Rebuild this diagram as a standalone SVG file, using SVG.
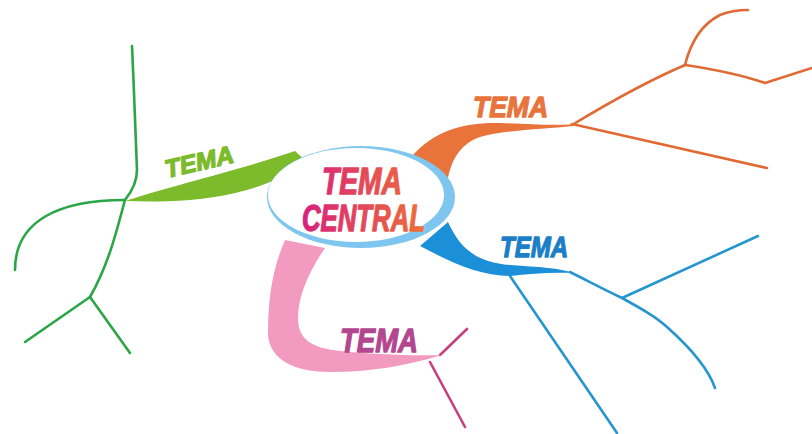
<svg xmlns="http://www.w3.org/2000/svg" width="812" height="434" viewBox="0 0 812 434">
<defs>
<linearGradient id="cg" gradientUnits="userSpaceOnUse" x1="300" y1="0" x2="428" y2="0">
<stop offset="0" stop-color="#d81f7d"/>
<stop offset="1" stop-color="#ee7236"/>
</linearGradient>
<style>
.lbl{font-family:"Liberation Sans",Arial,sans-serif;font-weight:bold;font-style:italic;stroke-width:1.3;stroke-linejoin:round}
.ln{fill:none;stroke-width:2.6;stroke-linecap:round;stroke-linejoin:round}
.g{stroke:#2aa646}.o{stroke:#e06a34}.b{stroke:#2596cf}.p{stroke:#c8407f}
</style>
</defs>
<rect width="812" height="434" fill="#ffffff"/>
<g id="connectors">
<!-- green -->
<path class="ln g" d="M132,46 C134,90 136,140 137,170 C137,180 133,190 125,200 C118,225 110,262 90,297"/>
<path class="ln g" d="M90,297 L130,353"/>
<path class="ln g" d="M90,297 L25,342"/>
<path class="ln g" d="M125,200 C60,200 15,220 15,270"/>
<path d="M125,201 C170,186 240,170 295,151 L310,165 L275,180 C245,193 200,204 125,201 Z" fill="#7cbb2b"/>
<!-- orange -->
<path class="ln o" d="M572,125 C610,102 650,80 685,65"/>
<path class="ln o" d="M685,65 C690,45 700,25 720,15 C730,11 740,10 748,10"/>
<path class="ln o" d="M685,65 C705,68 733,72 765,83 L812,68"/>
<path class="ln o" d="M572,124 L767,168"/>
<path d="M412,156 C435,130 465,122 500,123 C530,124 555,126 573,124 L573,126 C545,129 505,130 480,137 C462,143 452,158 448,178 L420,180 Z" fill="#e8743c"/>
<!-- blue -->
<path class="ln b" d="M510,276 L617,433"/>
<path class="ln b" d="M570,272 C590,282 605,290 622,298 C640,308 655,316 667,327 C685,343 707,365 715,388"/>
<path class="ln b" d="M622,298 L758,236"/>
<path d="M448,222 C460,248 475,262 510,265 C540,267 560,268 573,273 C550,272 530,274 510,276 C480,276 450,262 420,246 Z" fill="#1b8fd8"/>
<!-- pink -->
<path class="ln p" d="M440,355 L467,329"/>
<path class="ln p" d="M430,362 L465,427"/>
<path d="M285,240 C272,270 268,300 268,335 C270,360 295,372 330,372 C370,372 405,366 442,355 C410,356 370,354 340,351 C310,348 298,338 298,318 C298,295 310,270 325,248 Z" fill="#f39ac1"/>
</g>
<g id="central">
<ellipse cx="361" cy="197" rx="94" ry="51" fill="#7ec6ef"/>
<ellipse cx="356" cy="195" rx="88" ry="47" fill="#ffffff"/>
<text class="lbl" x="322" y="194" font-size="37" textLength="80" lengthAdjust="spacingAndGlyphs" fill="url(#cg)" stroke="url(#cg)">TEMA</text>
<text class="lbl" x="302" y="231" font-size="37" textLength="123" lengthAdjust="spacingAndGlyphs" fill="url(#cg)" stroke="url(#cg)">CENTRAL</text>
</g>
<g id="tema-green">
<text class="lbl" x="0" y="0" font-size="25" textLength="70" lengthAdjust="spacingAndGlyphs" fill="#7cbb2b" stroke="#7cbb2b" transform="translate(167,178) rotate(-13)">TEMA</text>
</g>
<g id="tema-orange">
<text class="lbl" x="473" y="117" font-size="30" textLength="75" lengthAdjust="spacingAndGlyphs" fill="#e8743c" stroke="#e8743c">TEMA</text>
</g>
<g id="tema-blue">
<text class="lbl" x="500" y="257" font-size="30" textLength="68" lengthAdjust="spacingAndGlyphs" fill="#1a7fc6" stroke="#1a7fc6">TEMA</text>
</g>
<g id="tema-pink">
<text class="lbl" x="340" y="352" font-size="33" textLength="78" lengthAdjust="spacingAndGlyphs" fill="#b3478f" stroke="#b3478f">TEMA</text>
</g>
</svg>
